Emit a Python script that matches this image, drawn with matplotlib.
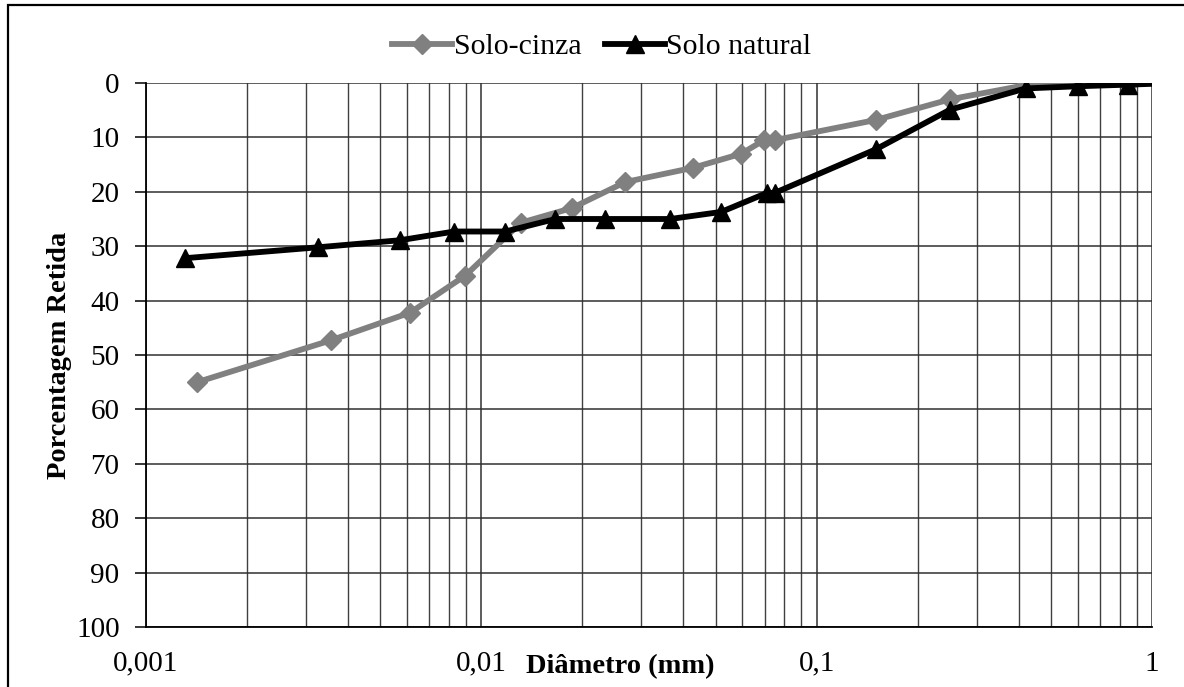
import matplotlib
matplotlib.use('Agg')
import numpy as np
import matplotlib.pyplot as plt
from matplotlib.patches import Rectangle
from matplotlib.ticker import LogLocator, FixedLocator, NullFormatter

plt.rcParams['font.family'] = ['Liberation Serif', 'DejaVu Serif']

# Solo-cinza (gray, diamonds)
d_cinza = [0.00142, 0.00356, 0.00614, 0.00896, 0.0131, 0.0186, 0.0269, 0.0427,
           0.0596, 0.0697, 0.075, 0.15, 0.25, 0.42, 0.6, 0.85]
p_cinza = [55.0, 47.3, 42.2, 35.4, 25.7, 23.0, 18.2, 15.6,
           13.0, 10.5, 10.5, 6.8, 3.0, 0.4, 0.2, 0.1]

# Solo natural (black, triangles)
d_natural = [0.00131, 0.00326, 0.00573, 0.0083, 0.0118, 0.0166, 0.0234, 0.0366,
             0.0519, 0.0711, 0.075, 0.15, 0.25, 0.42, 0.6, 0.85, 1.18]
p_natural = [32.2, 30.2, 28.9, 27.3, 27.3, 25.0, 25.0, 25.0,
             23.7, 20.2, 20.2, 12.2, 4.9, 1.0, 0.6, 0.3, 0.0]

x_ticks = [0.001, 0.01, 0.1, 1]
x_ticklabels = ['0,001', '0,01', '0,1', '1']
y_ticks = list(range(0, 101, 10))

fig = plt.figure(figsize=(11.84, 6.87), dpi=100)
ax = fig.add_axes([146/1184, 1-627/687, (1152-146)/1184, (627-83)/687])

ax.plot(d_cinza, p_cinza, color='#808080', lw=4.2, marker='D', ms=10.5,
        label='Solo-cinza', zorder=3)
ax.plot(d_natural, p_natural, color='black', lw=4.2, marker='^', ms=12.5,
        label='Solo natural', zorder=4)

ax.set_xscale('log')
ax.set_xlim(0.001, 1)
ax.set_ylim(100, 0)

ax.xaxis.set_major_locator(FixedLocator(x_ticks))
ax.set_xticklabels(x_ticklabels)
ax.xaxis.set_minor_locator(LogLocator(base=10, subs=np.arange(2, 10)))
ax.xaxis.set_minor_formatter(NullFormatter())
ax.set_yticks(y_ticks)

ax.grid(True, which='major', axis='both', color='#303030', lw=1.1)
ax.grid(True, which='minor', axis='x', color='#404040', lw=1.0)
ax.set_axisbelow(True)

ax.tick_params(axis='x', which='both', length=0, pad=17, labelsize=21)
ax.tick_params(axis='y', which='major', length=8, width=1.1, direction='out',
               pad=11, labelsize=21)
for s in ['top', 'right']:
	ax.spines[s].set_visible(False)
ax.spines['left'].set_linewidth(1.3)
ax.spines['bottom'].set_linewidth(1.3)

ax.set_xlabel('Diâmetro (mm)', fontsize=20.5, fontweight='bold')
ax.xaxis.set_label_coords((620-146)/1006, -0.05)
ax.set_ylabel('Porcentagem Retida', fontsize=20.5, fontweight='bold')
ax.yaxis.set_label_coords(-0.0735, 0.5)

fig.legend(loc='center', bbox_to_anchor=(602/1184, 1-47/687), ncol=2,
           frameon=False, fontsize=21.5, handlelength=2.0, handletextpad=0.05,
           columnspacing=0.8)

fig.patches.append(Rectangle((8/1184, -0.5), 2, 1.5 - 5/687, transform=fig.transFigure,
                             fill=False, ec='black', lw=1.6))

plt.savefig('out.png', dpi=100)
